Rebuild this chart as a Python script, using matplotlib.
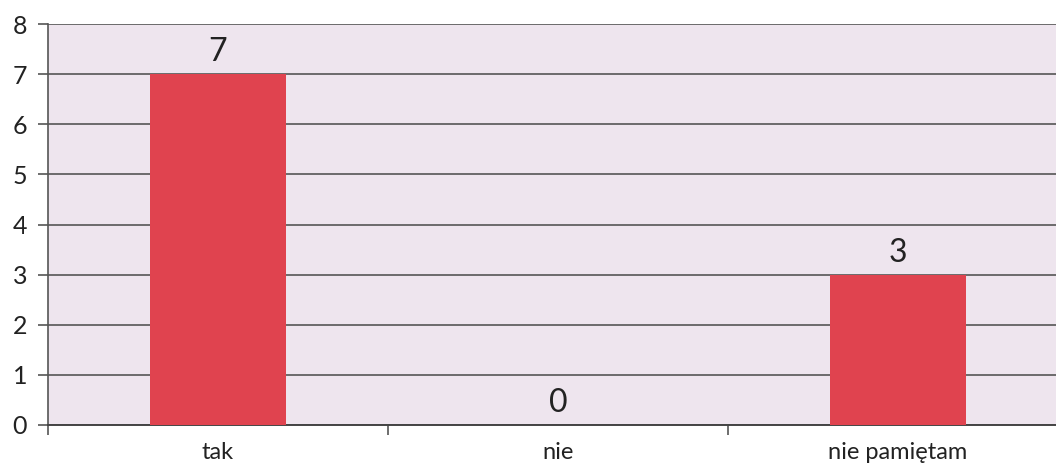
import matplotlib
matplotlib.use("Agg")
import matplotlib.pyplot as plt

categories = ["tak", "nie", "nie pamiętam"]
values = [7, 0, 3]
y_ticks = [0, 1, 2, 3, 4, 5, 6, 7, 8]

plt.rcParams['font.family'] = ['Lato', 'DejaVu Sans']

fig = plt.figure(figsize=(10.56, 4.7), dpi=100)
fig.patch.set_facecolor("white")
ax = fig.add_axes([48 / 1056, 45 / 470, 1020 / 1056, 401 / 470])
ax.set_facecolor("#eee5ee")

x = range(len(categories))
bars = ax.bar(x, values, width=0.4, color="#e0434f", zorder=3)
ax.bar_label(bars, padding=5, fontsize=23, color="#222222")

ax.set_xlim(-0.5, 2.5)
ax.set_ylim(0, 8)
ax.set_yticks(y_ticks)
ax.yaxis.grid(True, color="#555555", linewidth=1.2, zorder=1)
ax.set_axisbelow(True)

# category labels centred, tick marks on the boundaries
ax.set_xticks([-0.5, 0.5, 1.5, 2.5])
ax.set_xticklabels([])
ax.set_xticks(list(x), minor=True)
ax.set_xticklabels(categories, minor=True, fontsize=17, color="#222222")
ax.tick_params(axis="x", which="minor", length=0, pad=12)
ax.tick_params(axis="x", which="major", length=7, width=1.2, color="#555555", direction="out")
ax.tick_params(axis="y", length=7, width=1.2, color="#555555", labelsize=18,
               labelcolor="#222222", pad=8)

for side in ["top", "right"]:
    ax.spines[side].set_visible(False)
ax.spines["left"].set_color("#555555")
ax.spines["bottom"].set_color("#444444")
ax.spines["left"].set_linewidth(1.2)
ax.spines["bottom"].set_linewidth(1.4)

fig.savefig("out.png", dpi=100)
